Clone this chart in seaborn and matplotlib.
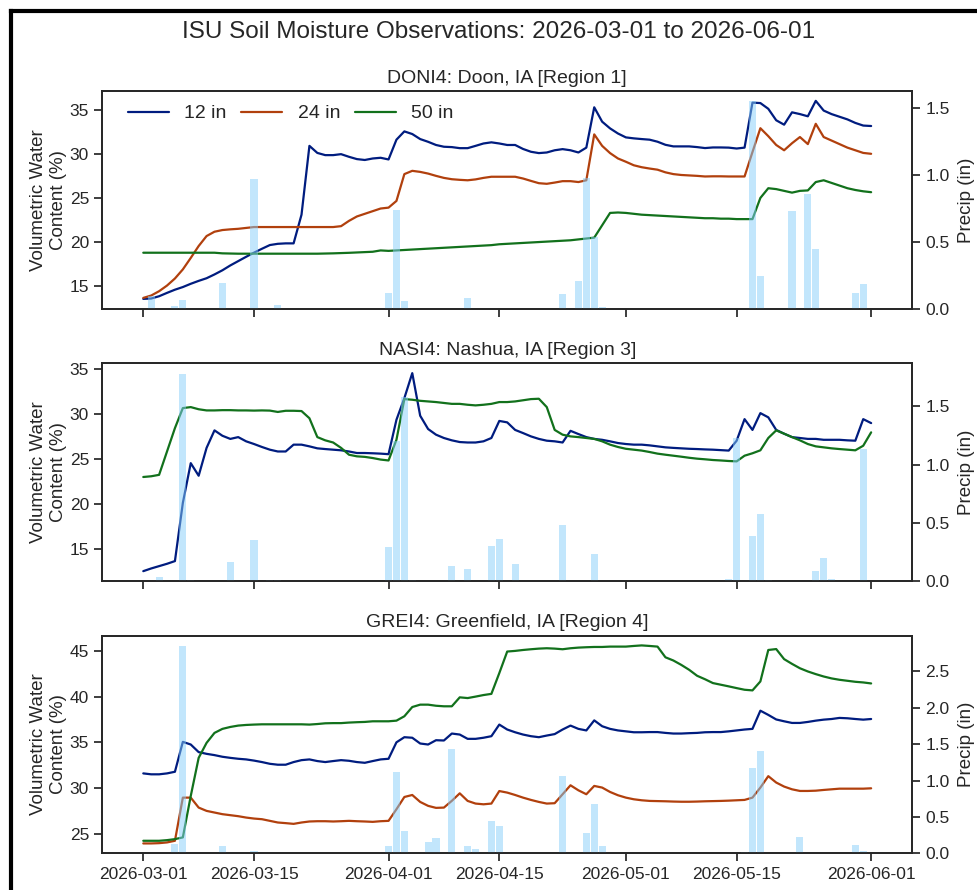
import numpy as np
import pandas as pd
import matplotlib
matplotlib.use("Agg")
import matplotlib.pyplot as plt
import matplotlib.dates as mdates
from matplotlib.ticker import MultipleLocator, FormatStrFormatter
from matplotlib.lines import Line2D
import seaborn as sns

# ---------------- data ----------------
start, end = "2026-03-01", "2026-06-01"
dates = pd.date_range(start, end, freq="D")
depths = ["12 in", "24 in", "50 in"]

doni_12 = [13.56, 13.6, 13.86, 14.24, 14.6, 14.9, 15.27, 15.6, 15.9, 16.33,
           16.8, 17.35, 17.84, 18.33, 18.8, 19.24, 19.66, 19.8, 19.85, 19.85,
           23.1, 30.9, 30.1, 29.85, 29.85, 29.96, 29.66, 29.4, 29.3, 29.47,
           29.55, 29.36, 31.6, 32.54, 32.24, 31.67, 31.36, 31.0, 30.8, 30.76,
           30.64, 30.64, 30.9, 31.17, 31.3, 31.17, 31.0, 31.0, 30.55, 30.23,
           30.08, 30.15, 30.4, 30.53, 30.4, 30.15, 30.7, 35.27, 33.64, 32.88,
           32.3, 31.86, 31.75, 31.67, 31.6, 31.37, 31.02, 30.84, 30.84, 30.84,
           30.76, 30.65, 30.72, 30.72, 30.7, 30.6, 30.7, 35.8, 35.75, 35.1,
           33.8, 33.3, 34.7, 34.5, 34.25, 36.0, 34.9, 34.5, 34.2, 33.9,
           33.5, 33.2, 33.15]
doni_24 = [13.67, 13.94, 14.43, 15.07, 15.87, 16.9, 18.2, 19.55, 20.68, 21.17,
           21.36, 21.44, 21.5, 21.6, 21.7, 21.7, 21.7, 21.7, 21.7, 21.7,
           21.7, 21.7, 21.7, 21.7, 21.7, 21.8, 22.4, 22.9, 23.2, 23.5,
           23.8, 23.9, 24.66, 27.7, 28.07, 27.95, 27.76, 27.5, 27.27, 27.12,
           27.05, 27.0, 27.1, 27.27, 27.4, 27.4, 27.4, 27.4, 27.2, 26.93,
           26.67, 26.6, 26.74, 26.9, 26.9, 26.8, 27.0, 32.2, 30.9, 30.08,
           29.47, 29.1, 28.7, 28.48, 28.33, 28.2, 27.9, 27.7, 27.6, 27.55,
           27.5, 27.43, 27.45, 27.45, 27.43, 27.43, 27.43, 30.2, 32.9, 32.0,
           31.0, 30.4, 31.2, 31.9, 31.1, 33.4, 31.9, 31.5, 31.1, 30.7,
           30.4, 30.1, 30.0]
doni_50 = [18.79, 18.79, 18.79, 18.79, 18.79, 18.79, 18.79, 18.79, 18.79, 18.79,
           18.72, 18.7, 18.68, 18.68, 18.68, 18.68, 18.68, 18.68, 18.68, 18.68,
           18.68, 18.68, 18.68, 18.7, 18.72, 18.75, 18.78, 18.82, 18.86, 18.9,
           19.05, 19.0, 19.05, 19.1, 19.15, 19.2, 19.25, 19.3, 19.35, 19.4,
           19.45, 19.5, 19.55, 19.6, 19.65, 19.75, 19.8, 19.85, 19.9, 19.95,
           20.0, 20.05, 20.1, 20.15, 20.2, 20.3, 20.4, 20.5, 21.9, 23.3,
           23.35, 23.3, 23.2, 23.1, 23.05, 23.0, 22.95, 22.9, 22.85, 22.8,
           22.75, 22.7, 22.7, 22.65, 22.65, 22.6, 22.6, 22.6, 25.0, 26.1,
           26.0, 25.8, 25.6, 25.8, 25.85, 26.8, 27.0, 26.7, 26.4, 26.1,
           25.9, 25.75, 25.65]
doni_precip_day = [1, 4, 5, 10, 14, 17, 31, 32, 33, 41, 53, 55, 56, 57, 58,
                   77, 78, 82, 84, 85, 90, 91]
doni_precip_in = [0.095, 0.02, 0.065, 0.19, 0.97, 0.03, 0.115, 0.74, 0.057, 0.08,
                  0.107, 0.206, 0.98, 0.54, 0.012, 1.55, 0.244, 0.73, 0.86, 0.45,
                  0.115, 0.187]

nasi_12 = [12.48, 12.78, 13.04, 13.3, 13.6, 20.07, 24.5, 23.1, 26.2, 28.15,
           27.55, 27.2, 27.4, 26.93, 26.63, 26.3, 26.0, 25.8, 25.8, 26.56,
           26.56, 26.37, 26.15, 26.07, 26.0, 25.93, 25.8, 25.63, 25.63, 25.6,
           25.56, 25.5, 29.33, 31.74, 34.52, 29.78, 28.3, 27.67, 27.3, 27.04,
           26.85, 26.8, 26.8, 26.93, 27.3, 29.2, 29.04, 28.2, 27.85, 27.48,
           27.2, 27.0, 26.93, 26.8, 28.1, 27.74, 27.4, 27.2, 27.1, 26.93,
           26.74, 26.63, 26.56, 26.56, 26.48, 26.37, 26.26, 26.2, 26.15, 26.1,
           26.07, 26.03, 26.0, 25.95, 25.9, 27.0, 29.4, 28.2, 30.07, 29.6,
           28.2, 27.78, 27.4, 27.3, 27.2, 27.2, 27.1, 27.1, 27.1, 27.04,
           27.0, 29.4, 28.96]
nasi_50 = [22.96, 23.04, 23.2, 25.8, 28.4, 30.63, 30.74, 30.5, 30.37, 30.37,
           30.4, 30.4, 30.37, 30.37, 30.35, 30.37, 30.35, 30.2, 30.33, 30.33,
           30.3, 29.5, 27.4, 27.04, 26.8, 26.2, 25.44, 25.26, 25.2, 25.07,
           24.9, 24.8, 27.1, 31.63, 31.56, 31.44, 31.37, 31.3, 31.2, 31.1,
           31.1, 31.0, 30.93, 31.0, 31.1, 31.3, 31.3, 31.37, 31.5, 31.63,
           31.67, 30.74, 28.2, 27.67, 27.48, 27.4, 27.3, 27.2, 26.93, 26.56,
           26.3, 26.1, 26.0, 25.9, 25.74, 25.56, 25.44, 25.33, 25.22, 25.1,
           25.0, 24.93, 24.85, 24.8, 24.74, 24.7, 25.33, 25.6, 25.93, 27.3,
           28.15, 27.78, 27.4, 27.04, 26.63, 26.37, 26.26, 26.15, 26.07, 26.0,
           25.93, 26.44, 27.93]
nasi_precip_day = [2, 5, 6, 11, 14, 16, 17, 31, 32, 33, 34, 39, 41, 44, 45, 47,
                   53, 57, 74, 75, 77, 78, 79, 85, 86, 87, 91]
nasi_precip_in = [0.037, 1.78, 0.01, 0.16, 0.35, 0.012, 0.01, 0.29, 1.2, 1.58,
                  0.01, 0.13, 0.106, 0.30, 0.36, 0.15, 0.48, 0.23, 0.02, 1.23,
                  0.39, 0.575, 0.01, 0.09, 0.20, 0.02, 1.135]

grei_12 = [31.6, 31.5, 31.5, 31.6, 31.78, 35.05, 34.76, 33.93, 33.74, 33.6,
           33.42, 33.3, 33.2, 33.13, 33.0, 32.84, 32.65, 32.55, 32.55, 32.84,
           33.05, 33.13, 32.95, 32.84, 32.95, 33.05, 32.98, 32.84, 32.76, 32.95,
           33.13, 33.2, 35.0, 35.56, 35.5, 34.87, 34.76, 35.23, 35.2, 35.96,
           35.85, 35.38, 35.38, 35.5, 35.67, 36.94, 36.4, 36.1, 35.85, 35.67,
           35.56, 35.74, 35.9, 36.4, 36.83, 36.47, 36.3, 37.4, 36.76, 36.47,
           36.3, 36.2, 36.1, 36.1, 36.12, 36.12, 36.03, 35.96, 35.96, 36.0,
           36.03, 36.1, 36.12, 36.12, 36.2, 36.3, 36.4, 36.47, 38.46, 38.0,
           37.5, 37.3, 37.12, 37.12, 37.23, 37.37, 37.48, 37.55, 37.67, 37.63,
           37.55, 37.48, 37.55]
grei_24 = [23.94, 23.94, 23.97, 24.05, 24.23, 28.95, 28.95, 27.86, 27.5, 27.32,
           27.14, 27.03, 26.92, 26.77, 26.66, 26.59, 26.41, 26.23, 26.16, 26.08,
           26.23, 26.34, 26.37, 26.37, 26.34, 26.37, 26.41, 26.37, 26.34, 26.3,
           26.37, 26.41, 27.68, 29.02, 29.24, 28.48, 28.05, 27.83, 27.86, 28.6,
           29.42, 28.59, 28.3, 28.22, 28.3, 29.67, 29.5, 29.24, 28.95, 28.7,
           28.48, 28.3, 28.34, 29.32, 30.3, 29.75, 29.32, 30.23, 30.05, 29.57,
           29.21, 28.95, 28.77, 28.66, 28.59, 28.57, 28.55, 28.52, 28.5, 28.5,
           28.52, 28.55, 28.57, 28.59, 28.62, 28.66, 28.7, 28.95, 30.05, 31.3,
           30.6, 30.16, 29.86, 29.68, 29.68, 29.71, 29.79, 29.86, 29.93, 29.93,
           29.93, 29.93, 29.97]
grei_50 = [24.23, 24.23, 24.23, 24.3, 24.41, 24.6, 29.13, 33.3, 34.94, 36.03,
           36.47, 36.68, 36.83, 36.9, 36.94, 36.97, 36.97, 36.97, 36.97, 36.97,
           36.97, 36.94, 37.0, 37.08, 37.1, 37.1, 37.16, 37.2, 37.23, 37.3,
           37.3, 37.3, 37.37, 37.85, 38.86, 39.12, 39.12, 39.0, 38.94, 38.94,
           39.92, 39.84, 40.0, 40.17, 40.3, 42.57, 44.93, 45.0, 45.1, 45.18,
           45.25, 45.29, 45.25, 45.18, 45.29, 45.36, 45.4, 45.43, 45.43, 45.47,
           45.47, 45.47, 45.54, 45.6, 45.54, 45.47, 44.3, 43.95, 43.47, 42.93,
           42.28, 41.9, 41.48, 41.3, 41.12, 40.93, 40.75, 40.68, 41.66, 45.1,
           45.2, 44.1, 43.58, 43.1, 42.75, 42.46, 42.2, 41.99, 41.84, 41.73,
           41.62, 41.55, 41.44]
grei_precip_day = [4, 5, 10, 14, 31, 32, 33, 36, 37, 39, 41, 42, 44, 45, 53, 56,
                   57, 58, 76, 77, 78, 79, 83, 90, 91]
grei_precip_in = [0.124, 2.85, 0.10, 0.037, 0.10, 1.12, 0.31, 0.156, 0.216, 1.43,
                  0.10, 0.064, 0.445, 0.38, 1.056, 0.275, 0.68, 0.10, 0.02, 1.17,
                  1.41, 0.01, 0.23, 0.11, 0.037]

stations = [
    ("DONI4: Doon, IA [Region 1]", {"12 in": doni_12, "24 in": doni_24, "50 in": doni_50},
     doni_precip_day, doni_precip_in),
    ("NASI4: Nashua, IA [Region 3]", {"12 in": nasi_12, "50 in": nasi_50},
     nasi_precip_day, nasi_precip_in),
    ("GREI4: Greenfield, IA [Region 4]", {"12 in": grei_12, "24 in": grei_24, "50 in": grei_50},
     grei_precip_day, grei_precip_in),
]

# ---------------- style ----------------
sns.set_theme(style="ticks", context="notebook")
plt.rcParams["font.family"] = ["Liberation Sans", "DejaVu Sans"]
plt.rcParams.update({
    "xtick.labelsize": 12.5, "ytick.labelsize": 12.5,
    "axes.labelsize": 13.5, "axes.titlesize": 14,
    "legend.fontsize": 14,
})
dark = sns.color_palette("dark")
palette = {"12 in": dark[0], "24 in": dark[1], "50 in": dark[2]}

fig, axes = plt.subplots(3, 1, figsize=(9.78, 8.9), dpi=100, sharex=True)
fig.subplots_adjust(left=0.1046, right=0.9328, bottom=0.0412, top=0.8978, hspace=0.25)

t0 = dates[0]
for i, (ax, (title, series, pday, pval)) in enumerate(zip(axes, stations)):
    rows = []
    for d in depths:
        if d in series:
            rows.append(pd.DataFrame({"date": dates, "vwc": series[d], "depth": d}))
    df = pd.concat(rows, ignore_index=True)
    sns.lineplot(data=df, x="date", y="vwc", hue="depth", palette=palette,
                 hue_order=[d for d in depths if d in series],
                 ax=ax, linewidth=1.6, legend=(i == 0))
    ax2 = ax.twinx()
    pdates = dates[pday]
    ax2.bar(pdates, pval, width=0.9, color="lightskyblue", alpha=0.5, linewidth=0)
    ax2.set_ylim(bottom=0)
    ax2.yaxis.set_major_locator(MultipleLocator(0.5))
    ax2.yaxis.set_major_formatter(FormatStrFormatter("%.1f"))
    ax2.set_ylabel("Precip (in)", labelpad=6)
    ax.yaxis.set_major_locator(MultipleLocator(5))
    ax.set_ylabel("Volumetric Water\nContent (%)", labelpad=2)
    ax.set_xlabel("")
    ax.set_title(title)
    if i == 0:
        h, l = ax.get_legend_handles_labels()
        ax.legend(h, l, loc="upper left", bbox_to_anchor=(0.022, 0.972), borderaxespad=0,
                  ncol=3, frameon=False, columnspacing=0.75, handlelength=2.1,
                  handletextpad=0.8)

axes[-1].set_xlim(t0 - pd.Timedelta(days=5.18), t0 + pd.Timedelta(days=97.2))
axes[-1].xaxis.set_major_locator(mdates.DayLocator(bymonthday=[1, 15]))
axes[-1].xaxis.set_major_formatter(mdates.DateFormatter("%Y-%m-%d"))

fig.suptitle("ISU Soil Moisture Observations: 2026-03-01 to 2026-06-01",
             fontsize=17.5, x=499 / 978, y=1 - 32 / 890, va="center")

# outer frame (left and top edges visible in the reference crop)
yt = 1 - 10.5 / 890
xl = 10.5 / 978
fig.add_artist(Line2D([xl, xl], [-0.01, yt], color="black", lw=3,
                      transform=fig.transFigure, solid_capstyle="projecting"))
fig.add_artist(Line2D([xl, 1.01], [yt, yt], color="black", lw=3,
                      transform=fig.transFigure, solid_capstyle="projecting"))

fig.savefig("out.png", dpi=100)
